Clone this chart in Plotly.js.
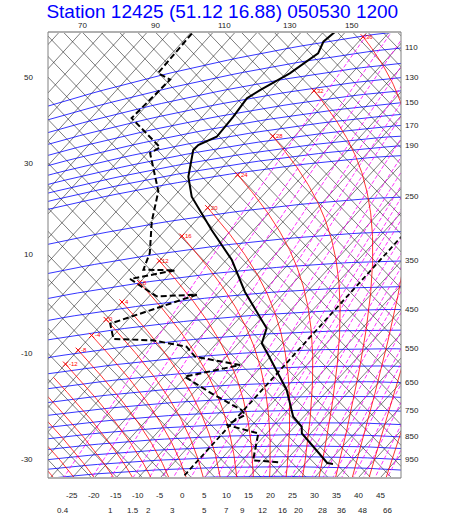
<!DOCTYPE html>
<html><head><meta charset="utf-8">
<script src="https://cdn.plot.ly/plotly-3.0.1.min.js"></script>
<style>body{margin:0;background:#fff}#c{width:450px;height:524px}</style>
</head><body><div id="c"></div>
<script>
// ---- Sounding (pressure in hPa on the chart's isobar scale, temperatures in °C)
const tempP = [983.5, 979.4, 903.4, 844.1, 816.2, 775.1, 674.8, 596.2, 559.5, 524.7, 485.0, 394.1, 328.0, 272.7, 220.7, 195.2, 167.0, 162.9, 158.1, 142.6, 129.4, 124.9, 116.5, 106.3, 99.7, 95.0];
const tempT = [31.4, 29.9, 23.4, 18.0, 16.6, 12.6, 5.6, -1.9, -5.8, -9.7, -11.7, -24.2, -33.7, -44.5, -55.9, -60.8, -65.2, -65.1, -62.6, -63.0, -63.7, -62.4, -59.1, -56.8, -58.0, -57.4];
const dewP = [977.8, 966.9, 841.7, 802.0, 763.8, 743.5, 675.2, 611.1, 585.4, 550.1, 518.6, 491.1, 474.1, 432.8, 390.2, 383.2, 339.0, 334.5, 324.8, 296.1, 245.7, 206.5, 161.5, 157.9, 126.1, 104.3, 98.1, 79.2];
const dewT = [18.6, 12.5, 8.1, -0.8, 1.3, -0.5, -10.8, -20.3, -10.2, -22.1, -26.1, -35.0, -44.3, -48.2, -34.5, -43.3, -52.9, -44.5, -51.8, -53.8, -59.9, -64.6, -74.4, -73.3, -85.8, -85.0, -89.1, -89.6];

// ---- Background line families and labels
const isobarLevels = [100,110,120,130,140,150,160,170,180,190,200,250,300,350,400,450,500,550,600,650,700,750,800,850,900,950,1000,1050];
const pressureLabels = [110,130,150,170,190,250,350,450,550,650,750,850,950];
const thetaLeftLabels = [50,30,10,-10,-30];
const thetaTopLabels = [70,90,110,130,150];
const tempLabels = [-25,-20,-15,-10,-5,0,5,10,15,20,25,30,35,40,45];
const mixLines = [0.4,0.7,1,1.5,2,2.5,3,4,5,6,7,8,9,10,12,14,16,18,20,24,28,32,36,42,48,56,66];
const mixLabels = [0.4,1,1.5,2,3,5,7,9,12,16,20,28,36,48,66];
const wetBulbValues = [-36,-32,-28,-24,-20,-16,-12,-8,-4,0,4,8,12,16,20,24,28,32,36,40,44,48];
const titleText = 'Station 12425 (51.12 16.88) 050530 1200';

// ---- Tephigram frame (temperature / log potential temperature, rotated)
const KAP = 0.2857, T0 = 273.15, DELTA = 0.0121, PFAC = Math.exp(DELTA / KAP), RFAC = 0.93;
const X0 = 190.75, Y0 = 468.4, A = 2.259, B = 627.7, D = 2.356, E = -690.5;
const XL = 48, XR = 401, YT = 32, YB = 478;
const px = x => (x - XL) / (XR - XL), py = y => (YB - y) / (YB - YT);
function scr(T, Ls) { return [X0 + A * T + B * Ls, Y0 + D * T + E * Ls]; }
function lsTP(T, P) { return Math.log((T + T0) / T0) + KAP * Math.log(1000 / P); }
function lsTheta(thK) { return Math.log(thK / T0) + DELTA; }
function ptTP(T, P) { return scr(T, lsTP(T, P)); }

const traces = [];
function family(segs, line) {
  const xs = [], ys = [];
  segs.forEach(s => { s.forEach(p => { xs.push(p[0]); ys.push(p[1]); }); xs.push(null); ys.push(null); });
  traces.push({type: 'scatter', mode: 'lines', x: xs, y: ys, line: line, hoverinfo: 'skip', showlegend: false});
}
function bisect(f, lo, hi) { let flo = f(lo); for (let i = 0; i < 60; i++) { const m = (lo + hi) / 2, fm = f(m); if ((fm > 0) === (flo > 0)) { lo = m; flo = fm; } else hi = m; } return (lo + hi) / 2; }

// isotherms (every 5 C)
const isoT = []; for (let T = -130; T <= 60; T += 5) if (T !== 0) isoT.push(T);
family(isoT.map(T => [scr(T, -0.25), scr(T, 0.6)]), {color: '#111', width: 0.55});
// dry adiabats (every 5 K of potential temperature)
const adC = []; for (let th = -50; th <= 180; th += 5) adC.push(th);
family(adC.map(th => { const L = lsTheta(th + T0); return [scr(-140, L), scr(60, L)]; }), {color: '#111', width: 0.55});
// isobars
family(isobarLevels.map(P => { const s = []; for (let T = -140; T <= 60; T += 2) s.push(ptTP(T, P)); return s; }), {color: '#0000ff', width: 0.8});

// mixing ratio lines
function tdFromW(w, P) { const p = P * PFAC; const e = w * p / (622 + w); const l = Math.log(e / 6.112); return 243.5 * l / (17.67 - l); }
family(mixLines.map(w => { const s = []; for (let lp = Math.log(1150); lp >= Math.log(100); lp -= 0.02) { const P = Math.exp(lp); s.push(ptTP(tdFromW(w, P), P)); } return s; }),
  {color: '#ff00ff', width: 0.8, dash: '4px,2px'});

// saturated (pseudo) adiabats
function dTdlnp(Tk, p) { const Rd = 287.04, cp = 1005.7, Lv = 2.501e6, eps = 0.622; const Tc = Tk - T0; const e = 6.112 * Math.exp(17.67 * Tc / (Tc + 243.5)); const r = RFAC * eps * e / (p - e); return (Rd * Tk + Lv * r) / (cp + Lv * Lv * r * eps / (Rd * Tk * Tk)); }
function integ(Tk, lp, h, stop) { const out = []; for (let i = 0; i < 2000; i++) { const k1 = dTdlnp(Tk, Math.exp(lp)), k2 = dTdlnp(Tk + h * k1 / 2, Math.exp(lp + h / 2)), k3 = dTdlnp(Tk + h * k2 / 2, Math.exp(lp + h / 2)), k4 = dTdlnp(Tk + h * k3, Math.exp(lp + h)); const Tn = Tk + h * (k1 + 2 * k2 + 2 * k3 + k4) / 6; const r = stop(Tk, Tn, lp, lp + h); if (r) { out.push(r); break; } Tk = Tn; lp += h; out.push([Tk, lp]); } return out; }
const satSegs = [], satEnds = [];
wetBulbValues.forEach(tw => {
  const Tk0 = tw + T0, lp0 = Math.log(1000);
  const up = integ(Tk0, lp0, -0.01, (Ta, Tb, la, lb) => (Tb - T0 <= -50 ? [T0 - 50, la + (lb - la) * (Ta - T0 + 50) / (Ta - Tb)] : null));
  const dn = integ(Tk0, lp0, 0.01, (Ta, Tb, la, lb) => (lb > Math.log(1250) ? [Tb, lb] : null));
  const pts = dn.reverse().concat([[Tk0, lp0]]).concat(up);
  satSegs.push(pts.map(q => ptTP(q[0] - T0, Math.exp(q[1]) / PFAC)));
  const last = up[up.length - 1];
  satEnds.push({tw: tw, xy: ptTP(last[0] - T0, Math.exp(last[1]) / PFAC)});
});
family(satSegs, {color: '#ff0000', width: 0.8});

// 0 C isotherm (bold dashed)
traces.push({type: 'scatter', mode: 'lines', x: [scr(0, -0.25)[0], scr(0, 0.6)[0]], y: [scr(0, -0.25)[1], scr(0, 0.6)[1]], line: {color: '#000', width: 1.8, dash: '5px,3px'}, hoverinfo: 'skip', showlegend: false});

// sounding
const tp = tempP.map((P, i) => ptTP(tempT[i], P));
const dp = dewP.map((P, i) => ptTP(dewT[i], P));
traces.push({type: 'scatter', mode: 'lines', x: tp.map(q => q[0]), y: tp.map(q => q[1]), line: {color: '#000', width: 2}, hoverinfo: 'skip', showlegend: false});
traces.push({type: 'scatter', mode: 'lines', x: dp.map(q => q[0]), y: dp.map(q => q[1]), line: {color: '#000', width: 2, dash: '6px,3px'}, hoverinfo: 'skip', showlegend: false});

// saturated adiabat end labels
const inside = q => q[0] > XL + 10 && q[0] < XR - 2 && q[1] > YT && q[1] < YB - 2;
const se = satEnds.filter(s => inside(s.xy));
traces.push({type: 'scatter', mode: 'markers', x: se.map(s => s.xy[0]), y: se.map(s => s.xy[1]),
  marker: {symbol: 'x-thin-open', size: 5, color: '#ff0000', line: {color: '#ff0000', width: 1}}, hoverinfo: 'skip', showlegend: false});

// ---- labels
const ann = [];
const lf = {family: 'Liberation Sans, Arial, sans-serif', size: 8, color: '#222'};
const lab = (x, y, t, xa) => ann.push({xref: 'paper', yref: 'paper', x: px(x), y: py(y), text: t, xanchor: xa, yanchor: 'middle', showarrow: false, font: lf});
se.forEach(s => ann.push({xref: 'paper', yref: 'paper', x: px(s.xy[0] + 1), y: py(s.xy[1]), text: String(s.tw), xanchor: 'left', yanchor: 'middle', showarrow: false, font: {family: 'Liberation Sans, Arial, sans-serif', size: 6, color: '#ff0000'}}));
pressureLabels.forEach(P => { const T = bisect(T => ptTP(T, P)[0] - XR, -150, 80); lab(XR + 2, ptTP(T, P)[1], String(P), 'left'); });
thetaLeftLabels.forEach(th => { const L = lsTheta(th + T0); const T = (XL - X0 - B * L) / A; lab(XL - 13, Y0 + D * T + E * L, String(th), 'right'); });
thetaTopLabels.forEach(th => { const L = lsTheta(th + T0); const T = (YT - Y0 - E * L) / D; lab(X0 + A * T + B * L, 25, String(th), 'center'); });
tempLabels.forEach(T => { const L = (YB - Y0 - D * T) / E; lab(X0 + A * T + B * L, 495.5, String(T), 'center'); });
mixLabels.forEach(w => { const lp = bisect(lp => ptTP(tdFromW(w, Math.exp(lp)), Math.exp(lp))[1] - YB, Math.log(300), Math.log(1400)); const P = Math.exp(lp); lab(ptTP(tdFromW(w, P), P)[0], 510, String(w), 'center'); });

const layout = {
  width: 450, height: 524, margin: {l: XL, r: 450 - XR, t: YT, b: 524 - YB, pad: 0},
  paper_bgcolor: '#fff', plot_bgcolor: '#fff', showlegend: false,
  title: {text: titleText, font: {family: 'Liberation Sans, Arial, sans-serif', size: 19, color: '#0000ff'}, x: 0.494, xanchor: 'center', xref: 'container', y: 1 - 11 / 524, yanchor: 'middle', yref: 'container'},
  xaxis: {range: [XL, XR], visible: false, fixedrange: true},
  yaxis: {range: [YB, YT], visible: false, fixedrange: true},
  shapes: [
    {type: 'line', xref: 'paper', yref: 'paper', x0: 0, x1: 1, y0: 1, y1: 1, line: {color: '#b0b0b0', width: 2}},
    {type: 'line', xref: 'paper', yref: 'paper', x0: 0, x1: 1, y0: 0, y1: 0, line: {color: '#b0b0b0', width: 2}},
    {type: 'line', xref: 'paper', yref: 'paper', x0: 0, x1: 0, y0: 0, y1: 1, line: {color: '#808080', width: 1}},
    {type: 'line', xref: 'paper', yref: 'paper', x0: 1, x1: 1, y0: 0, y1: 1, line: {color: '#808080', width: 1}}
  ],
  annotations: ann
};
Plotly.newPlot('c', traces, layout, {staticPlot: true, displayModeBar: false});
</script></body></html>
